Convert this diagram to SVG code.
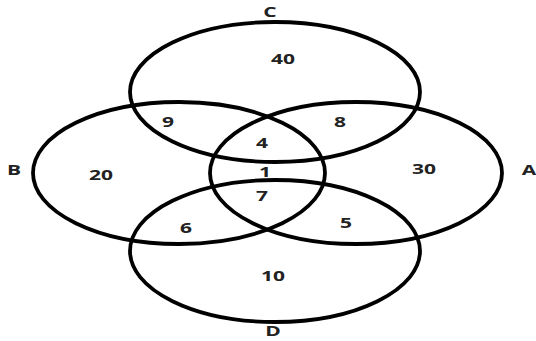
<svg xmlns="http://www.w3.org/2000/svg" width="536" height="341" viewBox="0 0 536 341">
<style>
.e{fill:none;stroke:#000;stroke-width:3.8}
.t{font-family:"Open Sans","DejaVu Sans",sans-serif;font-size:14px;font-weight:bold;fill:#222;text-anchor:middle;dominant-baseline:central}
</style>
<rect width="536" height="341" fill="#fff"/>
<g id="C"><ellipse class="e" cx="275" cy="92" rx="145" ry="70"/></g>
<g id="D"><ellipse class="e" cx="275" cy="251" rx="145" ry="71"/></g>
<g id="B"><ellipse class="e" cx="179" cy="173" rx="146" ry="71"/></g>
<g id="A"><ellipse class="e" cx="356" cy="173" rx="146" ry="71"/></g>
<g id="labels">
<text class="t" transform="translate(270,12) scale(1.5,1)">C</text>
<text class="t" transform="translate(273,331) scale(1.5,1)">D</text>
<text class="t" transform="translate(14,170) scale(1.5,1)">B</text>
<text class="t" transform="translate(529,170) scale(1.5,1)">A</text>
<text class="t" transform="translate(283,59) scale(1.5,1)">40</text>
<text class="t" transform="translate(168,122) scale(1.5,1)">9</text>
<text class="t" transform="translate(340,122) scale(1.5,1)">8</text>
<text class="t" transform="translate(262,143) scale(1.5,1)">4</text>
<text class="t" transform="translate(101,175) scale(1.5,1)">20</text>
<text class="t" transform="translate(265,172) scale(1.5,1)">1</text>
<text class="t" transform="translate(424,169) scale(1.5,1)">30</text>
<text class="t" transform="translate(262,196) scale(1.5,1)">7</text>
<text class="t" transform="translate(186,228) scale(1.5,1)">6</text>
<text class="t" transform="translate(346,223) scale(1.5,1)">5</text>
<text class="t" transform="translate(273,276) scale(1.5,1)">10</text>
</g>
</svg>
